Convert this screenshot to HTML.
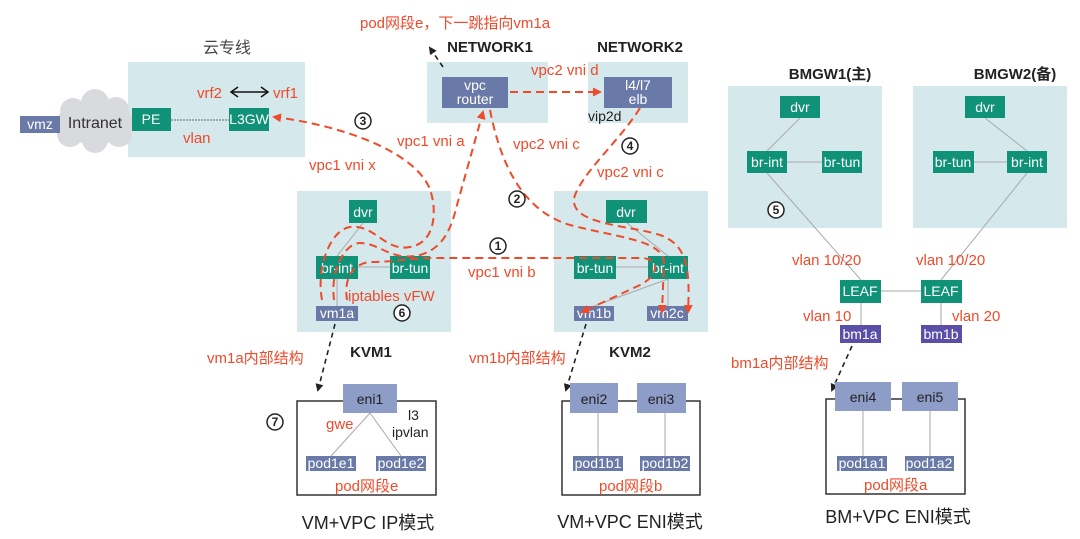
<!DOCTYPE html>
<html><head><meta charset="utf-8"><style>
html,body{margin:0;padding:0;background:#fff;}
svg{display:block;font-family:"Liberation Sans","Noto Sans CJK SC",sans-serif;}
.p{fill:#d5e8ec}
.g{fill:#0f9277}
.b{fill:#6a7aa8}
.lb{fill:#8e9cc8}
.pu{fill:#5b4ea6}
.w{fill:#fff;font-size:14px;text-anchor:middle}
.r{fill:#f04a2a;font-size:15px}
.k{fill:#222;font-size:15px;font-weight:bold;text-anchor:middle}
.ln{stroke:#aaa;stroke-width:1;fill:none}
.rd{stroke:#f04a2a;stroke-width:2;stroke-dasharray:8 5;fill:none}
.bd{stroke:#222;stroke-width:1.6;stroke-dasharray:5 4;fill:none}
.c{fill:#fff;stroke:#222;stroke-width:1.5}
.cn{font-size:12px;font-weight:bold;text-anchor:middle;fill:#222}
</style></head><body>
<svg width="1080" height="539" viewBox="0 0 1080 539">
<defs>
<marker id="ar" markerWidth="9" markerHeight="9" refX="7" refY="4.5" orient="auto" markerUnits="userSpaceOnUse"><path d="M0,0 L9,4.5 L0,9 z" fill="#f04a2a"/></marker>
<marker id="ak" markerWidth="8" markerHeight="8" refX="6" refY="4" orient="auto" markerUnits="userSpaceOnUse"><path d="M0,0 L8,4 L0,8 z" fill="#222"/></marker>
</defs>
<rect width="1080" height="539" fill="#fff"/>

<rect class="p" x="128" y="62" width="177" height="95"/>
<rect class="p" x="427" y="62" width="121" height="61"/>
<rect class="p" x="588" y="62" width="100" height="61"/>
<rect class="p" x="297" y="191" width="154" height="141"/>
<rect class="p" x="554" y="191" width="154" height="141"/>
<rect class="p" x="728" y="86" width="154" height="142"/>
<rect class="p" x="913" y="86" width="154" height="142"/>

<text x="227" y="53" font-size="16" fill="#444" text-anchor="middle">云专线</text>
<text class="k" x="490" y="52">NETWORK1</text>
<text class="k" x="640" y="52">NETWORK2</text>
<text class="k" x="830" y="79">BMGW1(主)</text>
<text class="k" x="1015" y="79">BMGW2(备)</text>
<text class="k" x="371" y="357">KVM1</text>
<text class="k" x="630" y="357">KVM2</text>
<text class="r" x="360" y="28" font-size="16">pod网段e，下一跳指向vm1a</text>

<g fill="#d9dadd">
<ellipse cx="95" cy="122" rx="38" ry="22"/>
<circle cx="73" cy="111" r="13"/><circle cx="95" cy="103" r="14"/><circle cx="116" cy="110" r="13"/>
<circle cx="70" cy="134" r="13"/><circle cx="95" cy="140" r="13"/><circle cx="119" cy="134" r="13"/>
</g>
<rect class="b" x="20" y="116" width="40" height="17"/>
<text class="w" x="40" y="129" font-size="14">vmz</text>
<text x="95" y="128" font-size="16" fill="#333" text-anchor="middle">Intranet</text>

<line x1="171" y1="120" x2="229" y2="120" stroke="#666" stroke-dasharray="2 1"/>
<rect class="g" x="132" y="108" width="39" height="23"/><text class="w" x="151" y="124" font-size="12">PE</text>
<rect class="g" x="229" y="108" width="40" height="23"/><text class="w" x="249" y="124" font-size="12">L3GW</text>
<text class="r" x="197" y="98" font-size="16">vrf2</text><text class="r" x="273" y="98" font-size="16">vrf1</text>
<line x1="232" y1="92" x2="267" y2="92" stroke="#111" stroke-width="1.5"/>
<path d="M238,87 L231,92 L238,97 M261,87 L268,92 L261,97" stroke="#111" stroke-width="1.5" fill="none"/>
<text class="r" x="183" y="143" font-size="16">vlan</text>

<rect class="b" x="442" y="77" width="66" height="31"/>
<text class="w" x="475" y="90" font-size="13">vpc</text><text class="w" x="475" y="104" font-size="13">router</text>
<rect class="b" x="604" y="77" width="68" height="31"/>
<text class="w" x="638" y="90" font-size="13">l4/l7</text><text class="w" x="638" y="104" font-size="13">elb</text>
<text x="588" y="121" font-size="14" fill="#222">vip2d</text>
<text class="r" x="531" y="75">vpc2 vni d</text>
<line class="rd" x1="510" y1="92" x2="600" y2="92" marker-end="url(#ar)"/>

<line class="ln" x1="363" y1="223" x2="337" y2="256"/>
<line class="ln" x1="358" y1="267" x2="390" y2="267"/>
<line class="ln" x1="337" y1="279" x2="337" y2="306"/>
<rect class="g" x="349" y="200" width="28" height="23"/><text class="w" x="363" y="217">dvr</text>
<rect class="g" x="316" y="256" width="42" height="23"/><text class="w" x="337" y="273">br-int</text>
<rect class="g" x="390" y="256" width="40" height="23"/><text class="w" x="410" y="273">br-tun</text>
<rect class="b" x="316" y="306" width="42" height="15"/><text class="w" x="337" y="318" font-size="13">vm1a</text>
<text class="r" x="348" y="301" font-size="16">iptables vFW</text>

<line class="ln" x1="627" y1="223" x2="668" y2="256"/>
<line class="ln" x1="616" y1="267" x2="648" y2="267"/>
<line class="ln" x1="668" y1="279" x2="594" y2="306"/>
<line class="ln" x1="668" y1="279" x2="668" y2="306"/>
<rect class="g" x="606" y="200" width="41" height="23"/><text class="w" x="626" y="217">dvr</text>
<rect class="g" x="574" y="256" width="42" height="23"/><text class="w" x="595" y="273">br-tun</text>
<rect class="g" x="648" y="256" width="40" height="23"/><text class="w" x="668" y="273">br-int</text>
<rect class="b" x="574" y="306" width="40" height="15"/><text class="w" x="594" y="318" font-size="13">vm1b</text>
<rect class="b" x="647" y="306" width="41" height="15"/><text class="w" x="667" y="318" font-size="13">vm2c</text>

<line class="ln" x1="800" y1="118" x2="767" y2="151"/>
<line class="ln" x1="787" y1="162" x2="822" y2="162"/>
<line class="ln" x1="767" y1="173" x2="861" y2="280"/>
<rect class="g" x="780" y="96" width="40" height="22"/><text class="w" x="800" y="112">dvr</text>
<rect class="g" x="747" y="151" width="40" height="22"/><text class="w" x="767" y="167">br-int</text>
<rect class="g" x="822" y="151" width="40" height="22"/><text class="w" x="842" y="167">br-tun</text>
<line class="ln" x1="985" y1="118" x2="1027" y2="151"/>
<line class="ln" x1="974" y1="162" x2="1007" y2="162"/>
<line class="ln" x1="1027" y1="173" x2="941" y2="280"/>
<rect class="g" x="965" y="96" width="40" height="22"/><text class="w" x="985" y="112">dvr</text>
<rect class="g" x="933" y="151" width="41" height="22"/><text class="w" x="953" y="167">br-tun</text>
<rect class="g" x="1007" y="151" width="40" height="22"/><text class="w" x="1027" y="167">br-int</text>
<line class="ln" x1="881" y1="291" x2="921" y2="291"/>
<line class="ln" x1="861" y1="303" x2="861" y2="325"/>
<line class="ln" x1="941" y1="303" x2="941" y2="325"/>
<rect class="g" x="840" y="280" width="41" height="23"/><text class="w" x="860" y="296" font-size="12">LEAF</text>
<rect class="g" x="921" y="280" width="41" height="23"/><text class="w" x="941" y="296" font-size="12">LEAF</text>
<rect class="pu" x="840" y="325" width="41" height="18"/><text class="w" x="860" y="339">bm1a</text>
<rect class="pu" x="921" y="325" width="41" height="18"/><text class="w" x="941" y="339">bm1b</text>
<text class="r" x="792" y="265" font-size="16">vlan 10/20</text>
<text class="r" x="916" y="265" font-size="16">vlan 10/20</text>
<text class="r" x="803" y="321" font-size="16">vlan 10</text>
<text class="r" x="952" y="321" font-size="16">vlan 20</text>

<path class="rd" d="M322,300 C316,268 330,230 350,227 C375,224 385,252 410,247 C440,242 436,200 428,185 C410,150 340,125 274,117" marker-end="url(#ar)"/>
<path class="rd" d="M334,300 C330,270 345,243 360,243 C380,243 392,262 420,255 C445,248 452,225 457,205 L483,112" marker-end="url(#ar)"/>
<path class="rd" d="M347,300 C343,275 356,262 372,262 C392,262 402,259 430,258 L640,258 C660,258 660,275 640,285 L582,312" marker-end="url(#ar)"/>
<path class="rd" d="M490,110 C500,160 520,210 570,225 C620,238 662,240 664,262 L662,312" marker-end="url(#ar)"/>
<path class="rd" d="M640,108 C620,140 585,170 575,195 C565,225 630,225 660,235 C688,245 690,270 688,312" marker-end="url(#ar)"/>
<text class="r" x="397" y="146" font-size="16">vpc1 vni a</text>
<text class="r" x="309" y="170" font-size="16">vpc1 vni x</text>
<text class="r" x="513" y="149" font-size="16">vpc2 vni c</text>
<text class="r" x="597" y="177" font-size="16">vpc2 vni c</text>
<text class="r" x="468" y="277" font-size="16">vpc1 vni b</text>

<g>
<circle class="c" cx="363" cy="121" r="8"/><text class="cn" x="363" y="125">3</text>
<circle class="c" cx="630" cy="146" r="8"/><text class="cn" x="630" y="150">4</text>
<circle class="c" cx="517" cy="199" r="8"/><text class="cn" x="517" y="203">2</text>
<circle class="c" cx="498" cy="246" r="8"/><text class="cn" x="498" y="250">1</text>
<circle class="c" cx="402" cy="313" r="8"/><text class="cn" x="402" y="317">6</text>
<circle class="c" cx="776" cy="210" r="8"/><text class="cn" x="776" y="214">5</text>
<circle class="c" cx="275" cy="422" r="8"/><text class="cn" x="275" y="426">7</text>
</g>

<line class="bd" x1="443" y1="67" x2="430" y2="48" marker-end="url(#ak)"/>
<line class="bd" x1="335" y1="324" x2="318" y2="390" marker-end="url(#ak)"/>
<line class="bd" x1="586" y1="324" x2="566" y2="390" marker-end="url(#ak)"/>
<line class="bd" x1="852" y1="346" x2="832" y2="390" marker-end="url(#ak)"/>
<text class="r" x="207" y="363" font-size="16">vm1a内部结构</text>
<text class="r" x="469" y="363" font-size="16">vm1b内部结构</text>
<text class="r" x="731" y="368" font-size="16">bm1a内部结构</text>

<rect x="297" y="401" width="139" height="94" fill="none" stroke="#333" stroke-width="1.5"/>
<line class="ln" x1="370" y1="413" x2="331" y2="456"/>
<line class="ln" x1="370" y1="413" x2="401" y2="456"/>
<rect class="lb" x="343" y="384" width="54" height="29"/><text x="370" y="404" font-size="14" fill="#222" text-anchor="middle">eni1</text>
<text class="r" x="326" y="429" font-size="16">gwe</text>
<text x="408" y="420" font-size="14" fill="#222">l3</text>
<text x="392" y="437" font-size="14" fill="#222">ipvlan</text>
<rect class="b" x="306" y="456" width="50" height="15"/><text class="w" x="331" y="468" font-size="13">pod1e1</text>
<rect class="b" x="376" y="456" width="50" height="15"/><text class="w" x="401" y="468" font-size="13">pod1e2</text>
<text class="r" x="335" y="491" font-size="16">pod网段e</text>
<text x="368" y="529" font-size="18" fill="#222" text-anchor="middle">VM+VPC IP模式</text>

<rect x="562" y="401" width="138" height="94" fill="none" stroke="#333" stroke-width="1.5"/>
<line class="ln" x1="598" y1="413" x2="598" y2="456"/>
<line class="ln" x1="665" y1="413" x2="665" y2="456"/>
<rect class="lb" x="570" y="383" width="48" height="30"/><text x="594" y="404" font-size="14" fill="#222" text-anchor="middle">eni2</text>
<rect class="lb" x="637" y="383" width="49" height="30"/><text x="661" y="404" font-size="14" fill="#222" text-anchor="middle">eni3</text>
<rect class="b" x="573" y="456" width="50" height="15"/><text class="w" x="598" y="468" font-size="13">pod1b1</text>
<rect class="b" x="640" y="456" width="50" height="15"/><text class="w" x="665" y="468" font-size="13">pod1b2</text>
<text class="r" x="599" y="491" font-size="16">pod网段b</text>
<text x="630" y="528" font-size="18" fill="#222" text-anchor="middle">VM+VPC ENI模式</text>

<rect x="826" y="399" width="139" height="95" fill="none" stroke="#333" stroke-width="1.5"/>
<line class="ln" x1="863" y1="411" x2="863" y2="456"/>
<line class="ln" x1="930" y1="411" x2="930" y2="456"/>
<rect class="lb" x="835" y="382" width="56" height="29"/><text x="863" y="402" font-size="14" fill="#222" text-anchor="middle">eni4</text>
<rect class="lb" x="902" y="382" width="56" height="29"/><text x="930" y="402" font-size="14" fill="#222" text-anchor="middle">eni5</text>
<rect class="b" x="837" y="456" width="50" height="15"/><text class="w" x="862" y="468" font-size="13">pod1a1</text>
<rect class="b" x="905" y="456" width="49" height="15"/><text class="w" x="929" y="468" font-size="13">pod1a2</text>
<text class="r" x="864" y="490" font-size="16">pod网段a</text>
<text x="898" y="523" font-size="18" fill="#222" text-anchor="middle">BM+VPC ENI模式</text>
</svg>
</body></html>
